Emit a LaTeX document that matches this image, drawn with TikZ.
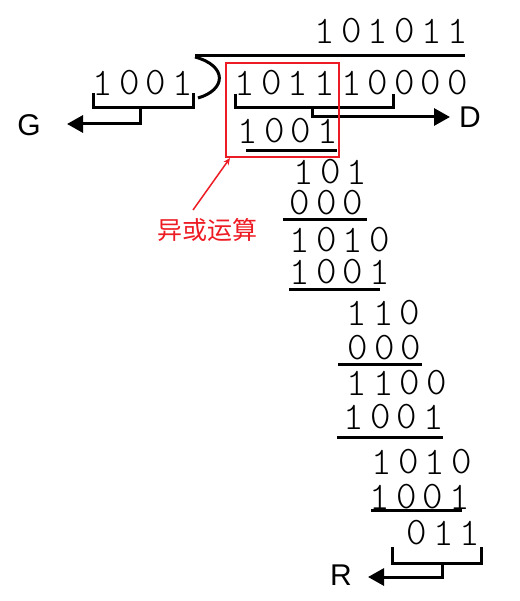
\documentclass[tikz,border=0pt]{standalone}
\usepackage{fontspec}
\newfontfamily\letterfont{Liberation Sans}
\newfontfamily\cjkfont{Noto Sans CJK SC}
\newfontfamily\bitfont{Latin Modern Mono Light}
\usetikzlibrary{arrows.meta}
\definecolor{xorred}{RGB}{237,28,36}

\tikzset{
  digit/.style={font=\fontsize{39}{39}\selectfont\bitfont, inner sep=0pt},
  letter/.style={font=\fontsize{30}{30}\selectfont\letterfont, inner sep=0pt},
  rule/.style={line width=3pt},
  bracket/.style={line width=3pt},
  outarrow/.style={line width=3pt, -{Triangle[length=16pt,width=17pt]}},
}

% one row of bits, one node per bit
\newcommand\bitrow[4]{%
  \foreach \b [count=\i from 0] in {#4} {
    \node[digit] (#1-\i) at ({#2+\i*26.6},#3) {\b};
  }%
}

\begin{document}
\begin{tikzpicture}[x=1pt,y=-1pt]
  \useasboundingbox (0,0) rectangle (519,601);

  % cociente, divisor y dividendo
  \bitrow{quot}{325}{31}{1,0,1,0,1,1}
  \bitrow{divs}{103}{83}{1,0,0,1}
  \bitrow{dvnd}{245}{83}{1,0,1,1,1,0,0,0,0}

  % signo de division
  \draw[rule] (195,56) -- (465,56);
  \draw[rule] (195,57) .. controls (228,66) and (226,90) .. (198,98);

  % pasos de la division
  \bitrow{sa}{248}{131}{1,0,0,1}
  \draw[rule] (246,151) -- (337,151);
  \bitrow{ra}{304}{172}{1,0,1}
  \bitrow{sb}{300}{203}{0,0,0}
  \draw[rule] (283,220) -- (367,220);
  \bitrow{rb}{300}{240}{1,0,1,0}
  \bitrow{sc}{300}{272}{1,0,0,1}
  \draw[rule] (289,289) -- (380,289);
  \bitrow{rc}{357}{313}{1,1,0}
  \bitrow{sd}{358}{348}{0,0,0}
  \draw[rule] (338,364) -- (422,364);
  \bitrow{rd}{357}{383}{1,1,0,0}
  \bitrow{se}{354}{417}{1,0,0,1}
  \draw[rule] (337,437) -- (443,437);
  \bitrow{re}{382}{462}{1,0,1,0}
  \bitrow{sf}{380}{497}{1,0,0,1}
  \draw[rule] (371,510) -- (462,510);
  \bitrow{rest}{417}{533}{0,1,1}

  % etiquetas G, D, R
  \node[letter] (G) at (29,125) {G};
  \node[letter] (D) at (470,117) {D};
  \node[letter] (R) at (341,575) {R};
  \coordinate (gtip) at (67,124);
  \coordinate (dtip) at (450,117);
  \coordinate (rtip) at (368,577);

  % corchetes y flechas
  \draw[bracket] (93,93) -- (93,108) -- (193,108) -- (193,93);
  \coordinate (gstem) at (140,108);
  \draw[outarrow] (gstem) |- (gtip);
  \draw[bracket] (235,94) -- (235,108) -- (393,108) -- (393,94);
  \coordinate (dstem) at (312,108);
  \draw[outarrow] (dstem) |- (dtip);
  \draw[bracket] (392,547) -- (392,563) -- (481,563) -- (481,547);
  \coordinate (rstem) at (442,563);
  \draw[outarrow] (rstem) |- (rtip);

  % recuadro rojo y nota
  \draw[xorred, line width=2pt] (226,63) rectangle (339,157);
  \coordinate (boxcorner) at (230,158);
  \node[font=\fontsize{25}{25}\selectfont\cjkfont, text=xorred, inner sep=0pt]
    (xor) at (207,230) {异或运算};
  \coordinate (xortail) at (193,210);
  \draw[xorred, line width=1.5pt, -{Stealth[length=7pt,width=6pt]}] (xortail) -- (boxcorner);
\end{tikzpicture}
\end{document}
